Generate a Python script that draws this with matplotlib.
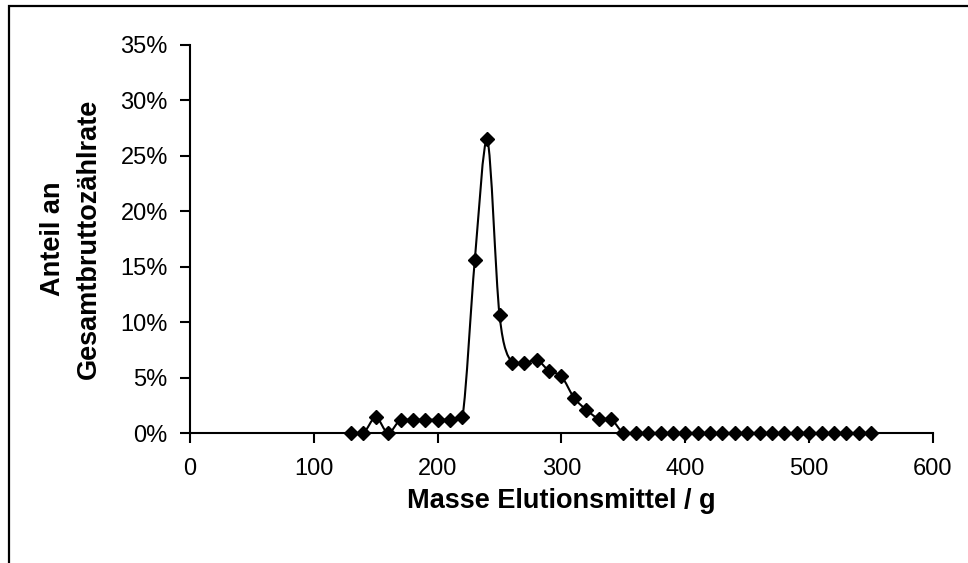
import matplotlib.pyplot as plt
from matplotlib.path import Path
from matplotlib.patches import PathPatch, Rectangle
from matplotlib.ticker import PercentFormatter
import numpy as np

plt.rcParams['font.family'] = ['Liberation Sans', 'DejaVu Sans']

# eluent mass (g) and share of total gross count rate (%)
masse = [130, 140, 150, 160, 170, 180, 190, 200, 210, 220, 230, 240, 250,
         260, 270, 280, 290, 300, 310, 320, 330, 340, 350, 360, 370, 380,
         390, 400, 410, 420, 430, 440, 450, 460, 470, 480, 490, 500, 510,
         520, 530, 540, 550]
anteil = [0.0, 0.0, 1.4, 0.0, 1.2, 1.2, 1.2, 1.2, 1.2, 1.4, 15.6, 26.5, 10.6,
          6.3, 6.3, 6.6, 5.6, 5.1, 3.2, 2.1, 1.3, 1.25, 0.0, 0.0, 0.0, 0.0,
          0.0, 0.0, 0.0, 0.0, 0.0, 0.0, 0.0, 0.0, 0.0, 0.0, 0.0, 0.0, 0.0,
          0.0, 0.0, 0.0, 0.0]

x_ticks = [0, 100, 200, 300, 400, 500, 600]
y_ticks = [0, 5, 10, 15, 20, 25, 30, 35]


def smooth_path(x, y):
    # cubic bezier through the points, control points kept inside each segment's y-range
    p = np.column_stack([x, y]).astype(float)
    verts = [p[0]]
    codes = [Path.MOVETO]
    n = len(p)
    for i in range(n - 1):
        p0 = p[i - 1] if i > 0 else p[i]
        p1 = p[i]
        p2 = p[i + 1]
        p3 = p[i + 2] if i + 2 < n else p[i + 1]
        c1 = p1 + (p2 - p0) / 6
        c2 = p2 - (p3 - p1) / 6
        lo, hi = min(p1[1], p2[1]), max(p1[1], p2[1])
        c1[1] = np.clip(c1[1], lo, hi)
        c2[1] = np.clip(c2[1], lo, hi)
        verts += [c1, c2, p2]
        codes += [Path.CURVE4] * 3
    return Path(verts, codes)


fig = plt.figure(figsize=(9.68, 5.63), dpi=100)
ax = fig.add_axes([0.1963, 0.2309, 0.7675, 0.6892])

ax.add_patch(PathPatch(smooth_path(masse, anteil), fill=False, lw=1.5,
                       color='black', clip_on=False))
ax.plot(masse, anteil, ls='none', marker='D', ms=7, color='black', clip_on=False)

ax.set_xlim(0, 600)
ax.set_ylim(0, 35)
ax.set_xticks(x_ticks)
ax.set_yticks(y_ticks)
ax.yaxis.set_major_formatter(PercentFormatter(100, decimals=0))

for s in ['top', 'right']:
    ax.spines[s].set_visible(False)
for s in ['left', 'bottom']:
    ax.spines[s].set_linewidth(1.5)
ax.tick_params(direction='out', length=7, width=1.5, labelsize=17)
ax.tick_params(axis='x', pad=11)
ax.tick_params(axis='y', pad=9)

ax.set_xlabel('Masse Elutionsmittel / g', fontsize=19.5, fontweight='bold', labelpad=6)
ax.set_ylabel('Anteil an\nGesamtbruttozählrate', fontsize=19.5, fontweight='bold',
              labelpad=13, linespacing=1.5)

# outer chart frame
fig.patches.append(Rectangle((9 / 968, -0.05), 1.1, 1 - 6 / 563 + 0.05,
                             transform=fig.transFigure, fill=False,
                             lw=1.6, edgecolor='black'))

fig.savefig('out.png', dpi=100)
